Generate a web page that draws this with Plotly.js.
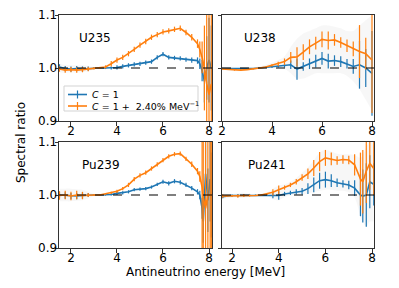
<!DOCTYPE html>
<html><head><meta charset="utf-8">
<script src="https://cdn.plot.ly/plotly-3.0.1.min.js"></script>
<style>html,body{margin:0;padding:0;background:#fff}#plot{width:399px;height:288px}</style>
</head><body><div id="plot"></div>
<script>
// ---- data ----
const panelNames = ["U235", "U238", "Pu239", "Pu241"];
const seriesNames = ["<i>C</i> = 1", "<i>C</i> = 1 +  2.40% MeV<sup>−1</sup>"];

const E_U235 = [1.5,1.75,2,2.25,2.5,2.75,3,3.25,3.5,3.75,4,4.25,4.5,4.75,5,5.25,5.5,5.75,6,6.25,6.5,6.75,7,7.25,7.5,7.6,7.7,7.8,7.9,8.0,8.1];
const U235_c1 = [1.002,0.999,0.998,0.999,0.998,0.999,1.0,1.0,1.0,1.0,1.001,1.003,1.005,1.007,1.008,1.010,1.012,1.020,1.026,1.020,1.019,1.018,1.016,1.015,1.014,1.008,0.995,0.975,1.0,1.015,1.0];
const U235_c1_err = [0.005,0.005,0.005,0.005,0.005,0.004,0.002,0.002,0.002,0.003,0.004,0.004,0.004,0.004,0.004,0.004,0.004,0.004,0.004,0.004,0.004,0.004,0.004,0.005,0.006,0.01,0.02,0.04,0.06,0.08,0.08];
const U235_c2 = [0.998,0.996,0.997,0.996,0.997,0.998,0.999,1.0,1.002,1.008,1.015,1.020,1.027,1.035,1.043,1.050,1.058,1.063,1.068,1.070,1.073,1.075,1.067,1.058,1.046,1.035,1.020,1.0,0.970,0.950,0.970];
const U235_c2_err = [0.005,0.005,0.005,0.005,0.005,0.004,0.002,0.002,0.003,0.005,0.005,0.005,0.005,0.005,0.005,0.005,0.005,0.005,0.005,0.005,0.005,0.005,0.005,0.006,0.008,0.015,0.03,0.08,0.15,0.15,0.15];
const U235_hazeHi = [1.008,1.006,1.005,1.005,1.005,1.004,1.002,1.001,1.0,1.0,1.0,1.0,1.0,1.0,1.0,1.0,1.0,1.0,1.0,1.0,1.0,1.0,1.0,1.0,1.0,1.0,1.0,1.0,1.0,1.0,1.0];
const U235_hazeLo = [0.992,0.991,0.992,0.991,0.992,0.994,0.997,0.999,1.0,1.0,1.0,1.0,1.0,1.0,1.0,1.0,1.0,1.0,1.0,1.0,1.0,1.0,1.0,1.0,1.0,1.0,1.0,1.0,1.0,1.0,1.0];

const E_U238 = [2,2.25,2.5,2.75,3,3.25,3.5,3.75,4,4.25,4.5,4.75,5,5.25,5.5,5.75,6,6.25,6.5,6.75,7,7.25,7.5,7.75,8];
const U238_c1 = [0.999,0.999,0.998,0.998,0.998,0.999,1.0,1.001,1.002,1.003,1.004,1.006,0.998,1.003,1.008,1.013,1.018,1.013,1.014,1.012,1.008,1.003,1.006,1.0,0.99];
const U238_c1_err = [0.001,0.001,0.001,0.001,0.001,0.001,0.001,0.001,0.002,0.002,0.003,0.008,0.020,0.008,0.010,0.012,0.012,0.014,0.010,0.010,0.009,0.014,0.045,0.036,0.08];
const U238_c2 = [0.998,0.997,0.996,0.996,0.997,0.998,1.0,1.002,1.005,1.008,1.012,1.020,1.021,1.030,1.040,1.047,1.054,1.052,1.053,1.048,1.042,1.036,1.031,1.027,1.015];
const U238_c2_err = [0.001,0.001,0.001,0.001,0.001,0.001,0.001,0.001,0.002,0.004,0.006,0.010,0.018,0.015,0.014,0.012,0.015,0.017,0.011,0.010,0.012,0.014,0.050,0.030,0.10];
const U238_hazeHi = [1.001,1.0,0.999,0.999,1.0,1.001,1.003,1.006,1.01,1.015,1.022,1.04,1.055,1.065,1.07,1.075,1.08,1.08,1.078,1.075,1.07,1.07,1.08,1.09,1.1];
const U238_hazeLo = [0.996,0.995,0.994,0.994,0.995,0.996,0.998,0.999,1.0,1.0,0.998,0.99,0.98,0.98,0.985,0.99,0.99,0.99,0.99,0.99,0.985,0.975,0.96,0.94,0.92];

const E_Pu239 = [1.5,1.75,2,2.25,2.5,2.75,3,3.25,3.5,3.75,4,4.25,4.5,4.75,5,5.25,5.5,5.75,6,6.25,6.5,6.75,7,7.25,7.5,7.6,7.7,7.75,7.85,7.95,8.05,8.1];
const Pu239_c1 = [1.0,0.999,0.998,0.998,0.999,1.0,1.0,1.0,1.0,1.001,1.003,1.004,1.006,1.010,1.011,1.012,1.015,1.020,1.025,1.022,1.026,1.024,1.019,1.013,1.006,1.0,0.975,0.950,1.040,0.990,1.030,1.0];
const Pu239_c1_err = [0.006,0.006,0.006,0.006,0.006,0.004,0.002,0.001,0.001,0.002,0.003,0.003,0.003,0.003,0.003,0.003,0.003,0.003,0.004,0.004,0.004,0.004,0.004,0.004,0.005,0.008,0.02,0.04,0.06,0.06,0.08,0.08];
const Pu239_c2 = [0.999,1.0,0.998,1.0,0.999,1.0,1.0,1.0,1.002,1.004,1.007,1.012,1.019,1.030,1.037,1.042,1.050,1.058,1.066,1.073,1.077,1.078,1.068,1.058,1.045,1.035,1.015,0.995,0.975,1.0,1.0,1.0];
const Pu239_c2_err = [0.008,0.008,0.008,0.008,0.007,0.004,0.002,0.001,0.001,0.002,0.003,0.003,0.004,0.004,0.004,0.004,0.004,0.004,0.004,0.004,0.004,0.004,0.004,0.005,0.006,0.01,0.15,0.15,0.15,0.15,0.15,0.15];
const Pu239_hazeHi = [1.012,1.012,1.012,1.011,1.01,1.006,1.002,1.001,1.0,1.0,1.0,1.0,1.0,1.0,1.0,1.0,1.0,1.0,1.0,1.0,1.0,1.0,1.0,1.0,1.0,1.0,1.0,1.0,1.0,1.0,1.0,1.0];
const Pu239_hazeLo = [0.988,0.988,0.988,0.989,0.99,0.994,0.998,0.999,1.0,1.0,1.0,1.0,1.0,1.0,1.0,1.0,1.0,1.0,1.0,1.0,1.0,1.0,1.0,1.0,1.0,1.0,1.0,1.0,1.0,1.0,1.0,1.0];

const E_Pu241 = [1.6,1.75,2,2.25,2.5,2.75,3,3.25,3.5,3.75,4,4.25,4.5,4.75,5,5.25,5.5,5.75,6,6.25,6.5,6.75,7,7.25,7.5,7.6,7.75,7.9,8.07];
const Pu241_c1 = [0.997,0.998,0.999,0.999,0.999,1.0,1.0,1.0,1.0,1.0,0.999,1.002,1.004,1.006,1.007,1.012,1.019,1.027,1.029,1.027,1.023,1.021,1.019,1.013,1.0,0.998,1.0,1.025,1.02];
const Pu241_c1_err = [0.003,0.002,0.002,0.003,0.003,0.002,0.001,0.001,0.002,0.006,0.008,0.004,0.004,0.005,0.006,0.010,0.014,0.015,0.015,0.012,0.008,0.007,0.008,0.015,0.04,0.05,0.06,0.05,0.04];
const Pu241_c2 = [0.998,0.998,0.998,0.998,0.999,0.999,0.999,1.0,1.002,1.005,1.010,1.014,1.019,1.025,1.033,1.040,1.051,1.063,1.070,1.068,1.065,1.067,1.066,1.057,1.030,1.025,1.045,1.060,1.050];
const Pu241_c2_err = [0.003,0.002,0.002,0.003,0.003,0.002,0.001,0.001,0.002,0.006,0.008,0.004,0.004,0.005,0.006,0.010,0.015,0.018,0.015,0.012,0.008,0.008,0.008,0.02,0.05,0.06,0.06,0.05,0.05];
const Pu241_hazeHi = [1.003,1.002,1.002,1.003,1.004,1.002,1.001,1.002,1.005,1.012,1.018,1.02,1.025,1.032,1.042,1.052,1.065,1.08,1.085,1.082,1.078,1.077,1.077,1.075,1.07,1.075,1.09,1.1,1.1];
const Pu241_hazeLo = [0.993,0.994,0.995,0.995,0.995,0.996,0.997,0.998,0.998,0.992,0.99,0.996,0.999,1.0,1.0,1.003,1.005,1.008,1.01,1.01,1.008,1.008,1.005,0.995,0.96,0.95,0.94,0.95,0.95];

const xRanges = [[1.48,8.13],[2.0,8.08],[1.48,8.13],[1.57,8.08]];
const yRange = [0.9, 1.1];
const xTicks = [2,4,6,8];
const yTicks = [0.9,1.0,1.1];
const yTickText = ["0.9","1.0","1.1"];

// ---- build ----
const BLUE = "#1f77b4", ORANGE = "#ff7f0e";
const COLORS = [BLUE, ORANGE];
const panels = [
  {E:E_U235, a:U235_c1, ae:U235_c1_err, b:U235_c2, be:U235_c2_err, lo:U235_hazeLo, hi:U235_hazeHi},
  {E:E_U238, a:U238_c1, ae:U238_c1_err, b:U238_c2, be:U238_c2_err, lo:U238_hazeLo, hi:U238_hazeHi},
  {E:E_Pu239, a:Pu239_c1, ae:Pu239_c1_err, b:Pu239_c2, be:Pu239_c2_err, lo:Pu239_hazeLo, hi:Pu239_hazeHi},
  {E:E_Pu241, a:Pu241_c1, ae:Pu241_c1_err, b:Pu241_c2, be:Pu241_c2_err, lo:Pu241_hazeLo, hi:Pu241_hazeHi}
];
const traces = [];
panels.forEach((p, i) => {
  const sfx = i === 0 ? "" : String(i + 1);
  const ax = {xaxis: "x" + sfx, yaxis: "y" + sfx};
  // faint cloud of sampled spectra
  traces.push(Object.assign({type: "scatter", mode: "lines", x: p.E, y: p.lo, line: {width: 0, shape: "spline"},
    hoverinfo: "skip", showlegend: false}, ax));
  traces.push(Object.assign({type: "scatter", mode: "lines", x: p.E, y: p.hi, line: {width: 0, shape: "spline"},
    fill: "tonexty", fillcolor: "rgba(190,190,190,0.13)", hoverinfo: "skip", showlegend: false}, ax));
  [[p.a, p.ae, 0], [p.b, p.be, 1]].forEach(([v, e, k]) => {
    traces.push(Object.assign({
      type: "scatter", mode: "lines", x: p.E, y: v,
      line: {color: COLORS[k], width: 1.6},
      error_y: {type: "data", array: e, visible: true, color: COLORS[k], thickness: 1.2, width: 0},
      name: seriesNames[k], showlegend: false
    }, ax));
  });
});

const W = 399, H = 288;
const px = x => x / W, py = y => 1 - y / H;
const xDom = [[px(59), px(212)], [px(222), px(374)]];
const yDom = [[py(121), py(15)], [py(248), py(142)]];
const FONT = "DejaVu Sans";
const layout = {
  width: W, height: H, margin: {l: 0, r: 0, t: 0, b: 0},
  paper_bgcolor: "#fff", plot_bgcolor: "#fff",
  font: {family: FONT, size: 12, color: "#000"},
  showlegend: false,
  shapes: [], annotations: []
};
const labelPos = [[95, 38], [260, 38], [100.5, 165], [266.5, 165]];
for (let i = 0; i < 4; i++) {
  const sfx = i === 0 ? "" : String(i + 1);
  const col = i % 2, row = Math.floor(i / 2);
  const common = {showline: true, mirror: true, linecolor: "#333", linewidth: 1,
    ticks: "outside", ticklen: 3.5, tickcolor: "#333", tickwidth: 1, showgrid: false, zeroline: false,
    ticklabelstandoff: -5,
    tickfont: {family: FONT, size: 12, color: "#000"}};
  layout["xaxis" + sfx] = Object.assign({}, common, {domain: xDom[col], range: xRanges[i],
    anchor: "y" + sfx, tickvals: xTicks, ticktext: xTicks.map(String)});
  layout["yaxis" + sfx] = Object.assign({}, common, {domain: yDom[row], range: yRange,
    anchor: "x" + sfx, tickvals: yTicks, ticktext: yTickText, showticklabels: col === 0});
  layout.shapes.push({type: "line", xref: "x" + sfx + " domain", yref: "y" + sfx,
    x0: 0, x1: 1, y0: 1, y1: 1, layer: "above", line: {color: "#000", width: 1.2, dash: "dash"}});
  layout.annotations.push({text: panelNames[i], xref: "paper", yref: "paper",
    x: px(labelPos[i][0]), y: py(labelPos[i][1]), xanchor: "center", yanchor: "middle", showarrow: false,
    font: {family: FONT, size: 12, color: "#000"}});
}
layout.annotations.push({text: "Antineutrino energy [MeV]", xref: "paper", yref: "paper",
  x: px(205), y: py(272), xanchor: "center", yanchor: "middle", showarrow: false, font: {family: FONT, size: 12}});
layout.annotations.push({text: "Spectral ratio", xref: "paper", yref: "paper",
  x: px(21), y: py(143), xanchor: "center", yanchor: "middle", showarrow: false, textangle: -90, font: {family: FONT, size: 12}});

// legend box (drawn inside the U235 panel, like the reference)
layout.shapes.push({type: "rect", xref: "paper", yref: "paper", x0: px(64), x1: px(198), y0: py(111), y1: py(86),
  line: {color: "#d3d3d3", width: 1}, fillcolor: "rgba(255,255,255,0.85)", layer: "above"});
const legRows = [94.5, 106];
legRows.forEach((yy, k) => {
  layout.shapes.push({type: "line", xref: "paper", yref: "paper", x0: px(68), x1: px(87), y0: py(yy), y1: py(yy),
    line: {color: COLORS[k], width: 1.6}, layer: "above"});
  layout.shapes.push({type: "line", xref: "paper", yref: "paper", x0: px(77.5), x1: px(77.5), y0: py(yy - 4), y1: py(yy + 4),
    line: {color: COLORS[k], width: 1.2}, layer: "above"});
  layout.annotations.push({text: seriesNames[k], xref: "paper", yref: "paper", x: px(90), y: py(yy),
    xanchor: "left", yanchor: "middle", showarrow: false, font: {family: FONT, size: 9.5, color: "#000"}});
});

Plotly.newPlot("plot", traces, layout, {staticPlot: true, displayModeBar: false});
</script></body></html>
